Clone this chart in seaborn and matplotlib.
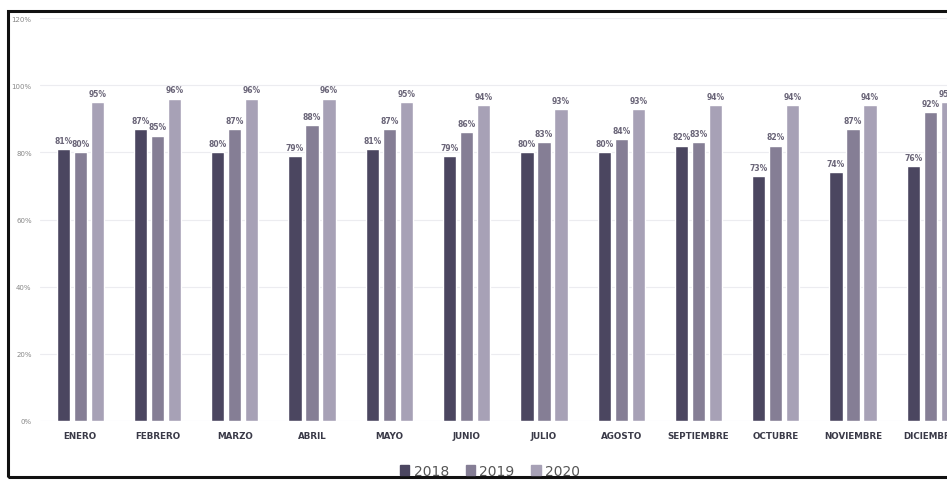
import pandas as pd
import matplotlib.pyplot as plt
import seaborn as sns
from matplotlib.patches import Rectangle, Patch

# monthly percentages
months = ["ENERO", "FEBRERO", "MARZO", "ABRIL", "MAYO", "JUNIO", "JULIO",
          "AGOSTO", "SEPTIEMBRE", "OCTUBRE", "NOVIEMBRE", "DICIEMBRE"]
years = ["2018", "2019", "2020"]
v2018 = [81, 87, 80, 79, 81, 79, 80, 80, 82, 73, 74, 76]
v2019 = [80, 85, 87, 88, 87, 86, 83, 84, 83, 82, 87, 92]
v2020 = [95, 96, 96, 96, 95, 94, 93, 93, 94, 94, 94, 95]
yticks = [0, 20, 40, 60, 80, 100, 120]

colors = ["#4b4660", "#857e95", "#a7a1b6"]

df = pd.DataFrame({
    "mes": months * 3,
    "anio": [y for y in years for _ in months],
    "valor": v2018 + v2019 + v2020,
})

sns.set_theme(style="white")
plt.rcParams['font.family'] = ['DejaVu Sans']

fig = plt.figure(figsize=(9.47, 4.81), dpi=100)
# axes runs past the right edge so the last month is cut like the scan
ax = fig.add_axes([40 / 947, 59 / 481, 929 / 947, 403 / 481])

sns.barplot(data=df, x="mes", y="valor", hue="anio", palette=colors,
            width=0.66, gap=0.22, ax=ax, legend=False, saturation=1)

for cont, col in zip(ax.containers, colors):
    ax.bar_label(cont, fmt="%d%%", fontsize=5.5, color="#6a6578",
                 fontweight="bold", padding=3)

ax.set_ylim(0, 120)
ax.set_xlim(-0.52, 11.5)
ax.set_yticks(yticks)
ax.set_yticklabels([f"{t}%" for t in yticks], fontsize=5, color="#888888")
ax.tick_params(axis="y", length=0, pad=6)
ax.tick_params(axis="x", length=0, pad=7)
for lab in ax.get_xticklabels():
    lab.set_fontsize(6.3)
    lab.set_fontweight("bold")
    lab.set_color("#3a3a48")
ax.set_xlabel("")
ax.set_ylabel("")
ax.yaxis.grid(True, color="#ececf0", linewidth=0.8)
ax.set_axisbelow(True)
for s in ax.spines.values():
    s.set_visible(False)

handles = [Patch(color=c, label=y) for c, y in zip(colors, years)]
fig.legend(handles=handles, loc="center", bbox_to_anchor=(490 / 947, 1 - 472 / 481),
           ncol=3, frameon=False, fontsize=10, handlelength=0.7, handleheight=0.7,
           handletextpad=0.3, columnspacing=1.2, labelcolor="#555555")

# dark frame of the scanned picture
fig.patches.append(Rectangle((8 / 947, 3 / 481), 1.2, 466 / 481, transform=fig.transFigure,
                             fill=False, edgecolor="#111111", linewidth=2.2))

fig.savefig("out.png", dpi=100)
